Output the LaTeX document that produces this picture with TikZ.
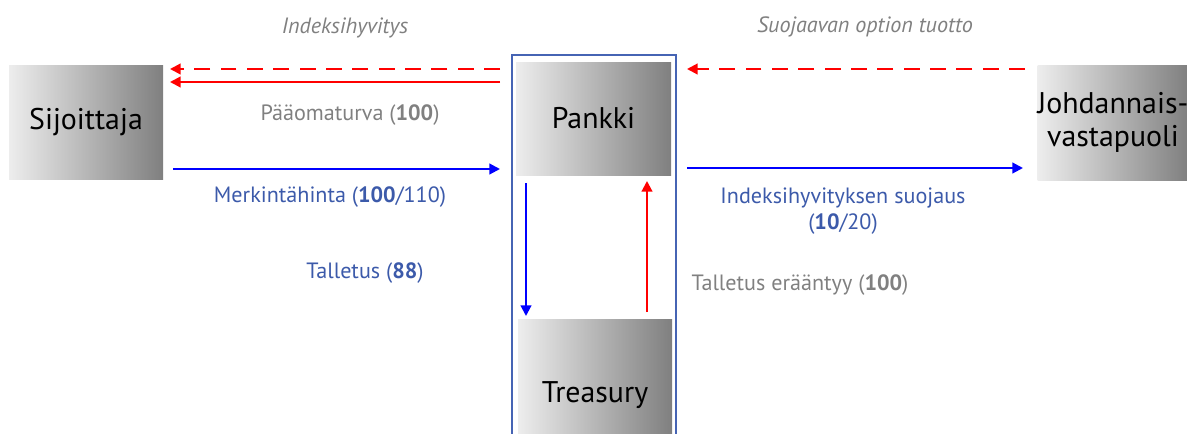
\documentclass[tikz,border=0pt]{standalone}
\usepackage{fontspec}
\setmainfont{PT Sans}
\usetikzlibrary{arrows.meta}
\definecolor{flowblue}{RGB}{0,0,255}
\definecolor{flowred}{RGB}{255,0,0}
\definecolor{txtblue}{RGB}{60,90,170}
\definecolor{txtgray}{RGB}{128,128,128}
\definecolor{frameblue}{RGB}{70,100,180}
\tikzset{
  party/.style={inner sep=0pt, left color=black!7, right color=black!50, text=black, font=\fontsize{17}{19}\selectfont, align=center},
  cash/.style={line width=1.2pt, -{Triangle[length=6pt,width=6pt]}},
  lbl/.style={font=\fontsize{12.6}{15}\selectfont, align=center},
  note/.style={font=\itshape\fontsize{12.6}{15}\selectfont, text=txtgray}
}
\begin{document}
\begin{tikzpicture}[x=0.02cm, y=-0.02cm]
  \useasboundingbox (0,0) rectangle (1187,433);
  % frame round bank and treasury
  \node (frame) [draw=frameblue, line width=0.8pt, minimum width=164*0.02cm, minimum height=430*0.02cm, inner sep=0pt] at (594,270) {};
  % parties
  \node (sij) [party, minimum width=154*0.02cm, minimum height=114*0.02cm] at (86,122) {Sijoittaja};
  \node (pankki) [party, minimum width=155*0.02cm, minimum height=113*0.02cm] at (593.5,118.5) {Pankki};
  \node (treas) [party, minimum width=154*0.02cm, minimum height=152*0.02cm] at (595,395) {Treasury};
  \node (joh) [party, minimum width=150*0.02cm, minimum height=115*0.02cm] at (1113,122.5) {Johdannais-\\vastapuoli};
  % anchor points of the flows
  \coordinate (sijA) at (170,69);
  \coordinate (sijB) at (170,82);
  \coordinate (sijC) at (500,169);
  \coordinate (pkA) at (500,69);
  \coordinate (pkB) at (500,82);
  \coordinate (pkC) at (173,169);
  \coordinate (pkD) at (687,69);
  \coordinate (pkE) at (687,168);
  \coordinate (jhA) at (1025,69);
  \coordinate (jhB) at (1023,168);
  \coordinate (dnA) at (526,183);
  \coordinate (dnB) at (526,316);
  \coordinate (upA) at (647,312);
  \coordinate (upB) at (647,181);
  % flows
  \draw [cash, flowred, dashed, dash pattern=on 9pt off 6pt] (pkA) -- (sijA);
  \draw [cash, flowred] (pkB) -- (sijB);
  \draw [cash, flowblue] (pkC) -- (sijC);
  \draw [cash, flowred, dashed, dash pattern=on 9pt off 6pt] (jhA) -- (pkD);
  \draw [cash, flowblue] (pkE) -- (jhB);
  \draw [cash, flowblue] (dnA) -- (dnB);
  \draw [cash, flowred] (upA) -- (upB);
  % labels
  \node (l1) [note] at (345,28) {Indeksihyvitys};
  \node (l2) [note] at (865,27) {Suojaavan option tuotto};
  \node (l3) [lbl, text=txtgray] at (350,115) {Pääomaturva (\textbf{100})};
  \node (l4) [lbl, text=txtblue] at (330,197) {Merkintähinta (\textbf{100}/110)};
  \node (l5) [lbl, text=txtblue] at (365,273) {Talletus (\textbf{88})};
  \node (l6) [lbl, text=txtgray] at (800,285) {Talletus erääntyy (\textbf{100})};
  \node (l7) [lbl, text=txtblue] at (843,211) {Indeksihyvityksen suojaus\\(\textbf{10}/20)};
\end{tikzpicture}
\end{document}
